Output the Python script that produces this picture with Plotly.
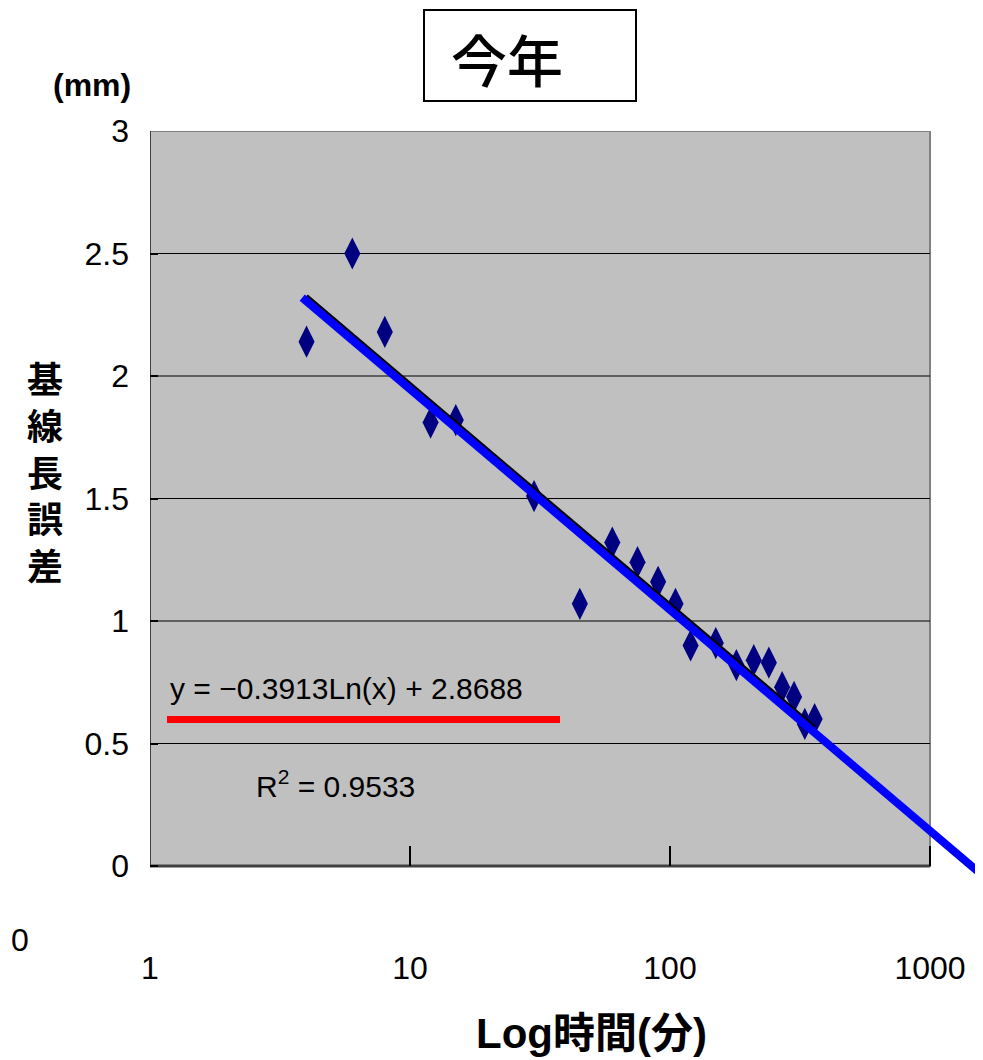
import numpy as np
import plotly.graph_objects as go

# ---- data ----
time_min = [4, 6, 8, 12, 15, 30, 45, 60, 75, 90, 105, 120, 150, 180, 210, 240, 270, 300, 330, 360]
baseline_err = [2.14, 2.50, 2.18, 1.81, 1.82, 1.51, 1.07, 1.32, 1.24, 1.16, 1.07, 0.90, 0.91, 0.82, 0.84, 0.83, 0.73, 0.69, 0.58, 0.60]

# Excel log trendline coefficients (as printed on chart)
coef_a = -0.3913
coef_b = 2.8688
r2 = 0.9533

# hand-drawn blue line end points
blue_x = [3.85, 1520]
blue_y = [2.32, -0.02]

x_ticks = [1, 10, 100, 1000]
y_ticks = [0, 0.5, 1, 1.5, 2, 2.5, 3]
y_ticklabels = ["0", "0.5", "1", "1.5", "2", "2.5", "3"]
grid_y = [0.5, 1, 1.5, 2, 2.5]
x_min, x_max, y_min, y_max = 1, 1000, 0, 3

# ---- geometry (screen pixels; page body adds an 8px offset) ----
OFF = 8
W, H = 983 - OFF, 1060 - OFF
SCR_PL, SCR_PR, SCR_PT, SCR_PB = 150, 979, 131, 876
ML, MT = SCR_PL - OFF, SCR_PT - OFF
MR = W - (SCR_PR - OFF)
MB = H - (SCR_PB - OFF)
X_TOP = (SCR_PR - SCR_PL) / 260.0     # log10 range top (260 px / decade)
Y_BOT = -(SCR_PB - 866) / 245.0        # keep y=0 at screen pixel 866


def px_x(p):
    return (p - SCR_PL) / (SCR_PR - SCR_PL)


def px_y(p):
    return (SCR_PB - p) / (SCR_PB - SCR_PT)


SANS = "Liberation Sans, Arial, sans-serif"
CJK = "Liberation Sans, Noto Sans CJK JP, sans-serif"

fit_x = [min(time_min), max(time_min)]
fit_y = [coef_a * np.log(v) + coef_b for v in fit_x]

fig = go.Figure()
fig.add_trace(go.Scatter(
    x=time_min, y=baseline_err, mode="markers",
    marker=dict(symbol="diamond-tall", size=23, color="#000080", line=dict(width=0)),
    showlegend=False, hoverinfo="x+y"))
fig.add_trace(go.Scatter(
    x=fit_x, y=fit_y, mode="lines",
    line=dict(color="black", width=4), showlegend=False))
fig.add_trace(go.Scatter(
    x=blue_x, y=blue_y, mode="lines",
    line=dict(color="#0000FF", width=8), showlegend=False))

shapes = [
    dict(type="rect", xref="x", yref="y", x0=x_min, x1=x_max, y0=y_min, y1=y_max,
         fillcolor="#C0C0C0", line=dict(color="#808080", width=2), layer="below"),
]
for gy in grid_y:
    shapes.append(dict(type="line", xref="x", yref="y", x0=x_min, x1=x_max, y0=gy, y1=gy,
                       line=dict(color="black", width=1), layer="below"))
# left/bottom darker frame edges
shapes.append(dict(type="line", xref="x", yref="y", x0=x_min, x1=x_min, y0=y_min, y1=y_max,
                   line=dict(color="#404040", width=2), layer="below"))
shapes.append(dict(type="line", xref="x", yref="y", x0=x_min, x1=x_max, y0=y_min, y1=y_min,
                   line=dict(color="#404040", width=3), layer="below"))
# red underline of the equation
shapes.append(dict(type="line", xref="paper", yref="paper",
                   x0=px_x(167), x1=px_x(560), y0=px_y(719.5), y1=px_y(719.5),
                   line=dict(color="#FF0000", width=7)))
# title box
shapes.append(dict(type="rect", xref="paper", yref="paper",
                   x0=px_x(424), x1=px_x(636), y0=px_y(101), y1=px_y(10),
                   line=dict(color="black", width=2), fillcolor="white"))

annotations = [
    dict(text="今年", x=px_x(507), y=px_y(58), xref="paper", yref="paper",
         showarrow=False, xanchor="center", yanchor="middle",
         font=dict(family="Noto Sans CJK JP", size=56, color="black", weight=500)),
    dict(text="(mm)", x=px_x(92), y=px_y(85), xref="paper", yref="paper",
         showarrow=False, xanchor="center", yanchor="middle",
         font=dict(family=SANS, size=32, color="black", weight="bold")),
    dict(text="Log時間(分)", x=px_x(591), y=px_y(1033), xref="paper", yref="paper",
         showarrow=False, xanchor="center", yanchor="middle",
         font=dict(family=CJK, size=42, color="black", weight="bold")),
    dict(text=f"y = \u2212{abs(coef_a):.4f}Ln(x) + {coef_b:.4f}",
         x=px_x(168), y=px_y(688), xref="paper", yref="paper",
         showarrow=False, xanchor="left", yanchor="middle",
         font=dict(family=SANS, size=30, color="black")),
    dict(text=f"R<sup>2</sup> = {r2:.4f}", x=px_x(254), y=px_y(784), xref="paper", yref="paper",
         showarrow=False, xanchor="left", yanchor="middle",
         font=dict(family=SANS, size=30, color="black")),
    dict(text="0", x=px_x(9), y=px_y(940), xref="paper", yref="paper",
         showarrow=False, xanchor="left", yanchor="middle",
         font=dict(family=SANS, size=32, color="black")),
    dict(text="<br>".join("基線長誤差"), x=px_x(45), y=px_y(470), xref="paper", yref="paper",
         showarrow=False, xanchor="center", yanchor="middle",
         font=dict(family="Noto Sans CJK JP", size=36, color="black", weight="bold")),
]

fig.update_layout(
    width=W, height=H,
    margin=dict(l=ML, r=MR, t=MT, b=MB),
    paper_bgcolor="white", plot_bgcolor="white",
    shapes=shapes, annotations=annotations,
    showlegend=False,
    xaxis=dict(type="log", range=[0, X_TOP], tickvals=x_ticks, ticktext=[str(v) for v in x_ticks],
               showgrid=False, zeroline=False, showline=False,
               ticks="inside", ticklen=20, tickwidth=1.5, tickcolor="black",
               anchor="free", position=px_y(866), ticklabelstandoff=80,
               tickfont=dict(family=SANS, size=32, color="black")),
    yaxis=dict(range=[Y_BOT, 3], tickvals=y_ticks, ticktext=y_ticklabels,
               showgrid=False, zeroline=False, showline=False,
               ticks="inside", ticklen=8, tickwidth=1.5, tickcolor="black",
               ticklabelstandoff=20,
               tickfont=dict(family=SANS, size=32, color="black")),
)

fig.write_html("out.html")
